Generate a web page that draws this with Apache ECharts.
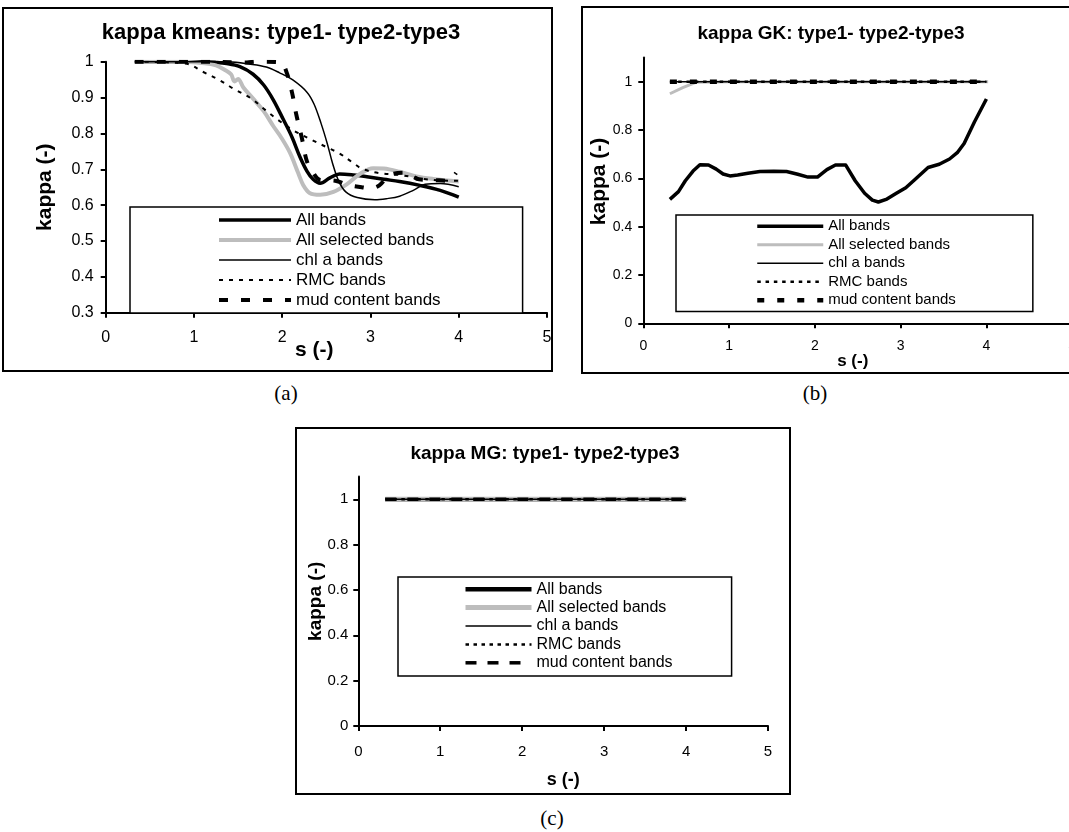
<!DOCTYPE html>
<html><head><meta charset="utf-8">
<script src="https://cdn.jsdelivr.net/npm/echarts@6/dist/echarts.min.js"></script>
<style>
html,body{margin:0;padding:0;width:1069px;height:832px;overflow:hidden;background:#fff;}
.panel{position:absolute;box-sizing:border-box;border:2px solid #000;background:#fff;}
.cap{position:absolute;font-family:'Liberation Serif','Times New Roman',serif;font-size:21px;color:#000;transform:translate(-50%,-50%);white-space:nowrap;}
</style></head><body>
<div id="pa" class="panel" style="left:2px;top:7px;width:551px;height:365px;"></div>
<div id="pb" class="panel" style="left:581px;top:6px;width:500px;height:368px;"></div>
<div id="pc" class="panel" style="left:295px;top:427px;width:496px;height:368px;"></div>
<div class="cap" style="left:286px;top:393px;">(a)</div>
<div class="cap" style="left:815px;top:393px;">(b)</div>
<div class="cap" style="left:552px;top:818px;">(c)</div>
<script>
// ---------- data ----------
const seriesNames = ['All bands', 'All selected bands', 'chl a bands', 'RMC bands', 'mud content bands'];
const titles = ['kappa kmeans: type1- type2-type3', 'kappa GK: type1- type2-type3', 'kappa MG: type1- type2-type3'];
const xName = 's (-)';
const yName = 'kappa (-)';
const yTicksBC = [0, 0.2, 0.4, 0.6, 0.8, 1];

// (a) kmeans  [s, kappa]
const kmAll = [[0.33,1.0],[0.8,1.0],[1.07,1.0],[1.25,0.998],[1.37,0.995],[1.52,0.986],[1.67,0.965],[1.79,0.935],[1.90,0.893],[2.01,0.84],[2.11,0.79],[2.20,0.735],[2.28,0.695],[2.35,0.672],[2.43,0.661],[2.54,0.676],[2.65,0.687],[2.81,0.684],[2.96,0.679],[3.15,0.672],[3.33,0.666],[3.56,0.655],[3.79,0.641],[4.0,0.622]];
const kmSel = [[0.33,1.0],[0.8,1.0],[1.12,0.996],[1.25,0.99],[1.35,0.977],[1.42,0.965],[1.46,0.945],[1.50,0.952],[1.56,0.928],[1.67,0.897],[1.79,0.862],[1.90,0.82],[1.99,0.788],[2.09,0.745],[2.18,0.69],[2.24,0.655],[2.31,0.634],[2.43,0.629],[2.58,0.637],[2.73,0.658],[2.88,0.687],[3.03,0.703],[3.15,0.702],[3.33,0.693],[3.52,0.68],[3.71,0.673],[4.0,0.666]];
const kmChl = [[0.33,1.0],[1.0,1.0],[1.37,1.0],[1.64,0.993],[1.82,0.985],[1.97,0.969],[2.12,0.949],[2.28,0.915],[2.36,0.882],[2.44,0.828],[2.51,0.772],[2.57,0.717],[2.64,0.667],[2.72,0.637],[2.85,0.621],[3.05,0.615],[3.18,0.618],[3.33,0.625],[3.49,0.642],[3.62,0.658],[3.79,0.66],[4.0,0.651]];
const kmRmc = [[0.33,1.0],[0.92,0.994],[1.1,0.972],[1.28,0.95],[1.46,0.923],[1.65,0.897],[1.81,0.865],[1.95,0.838],[2.13,0.808],[2.35,0.78],[2.5,0.762],[2.65,0.744],[2.79,0.72],[2.91,0.701],[3.11,0.689],[3.33,0.684],[3.71,0.67],[4.0,0.668]];
const kmMud = [[0.33,1.0],[1.0,1.0],[1.6,0.998],[1.7,1.0],[1.98,0.998],[2.05,0.97],[2.11,0.915],[2.16,0.852],[2.22,0.79],[2.28,0.722],[2.35,0.69],[2.43,0.67],[2.6,0.668],[2.75,0.656],[2.9,0.65],[3.0,0.647],[3.1,0.655],[3.22,0.684],[3.4,0.69],[3.55,0.672],[3.72,0.67],[3.87,0.668],[3.97,0.69]];

// (b) GK
const gkAll = [[0.31,0.513],[0.41,0.545],[0.49,0.59],[0.58,0.63],[0.66,0.656],[0.76,0.655],[0.85,0.638],[0.93,0.618],[1.01,0.61],[1.1,0.614],[1.22,0.621],[1.36,0.628],[1.52,0.629],[1.67,0.628],[1.8,0.617],[1.92,0.605],[2.03,0.605],[2.14,0.636],[2.24,0.655],[2.36,0.655],[2.47,0.59],[2.58,0.538],[2.67,0.51],[2.74,0.502],[2.84,0.514],[2.95,0.538],[3.06,0.561],[3.17,0.596],[3.32,0.645],[3.45,0.658],[3.57,0.68],[3.66,0.706],[3.74,0.744],[3.86,0.833],[4.0,0.928]];
const gkSel = [[0.31,0.95],[0.46,0.975],[0.62,0.998],[1.0,1.0],[2.0,1.0],[3.0,1.0],[4.02,1.0]];
const gkChl = [[0.31,1.0],[4.0,1.0]];
const gkRmc = [[0.31,1.0],[4.0,1.0]];
const gkMud = [[0.31,1.0],[4.0,1.0]];

// (c) MG
const mgAll = [[0.33,1.0],[4.0,1.0]];
const mgSel = [[0.33,1.0],[4.0,1.0]];
const mgChl = [[0.33,1.0],[4.0,1.0]];
const mgRmc = [[0.33,1.0],[4.0,1.0]];
const mgMud = [[0.33,1.0],[4.0,1.0]];

// ---------- styles ----------
const FONT = "'Liberation Sans', Arial, Helvetica, sans-serif";
const GRAY = '#bdbdbd';

const panels = [
  { id: 'pa', title: titles[0], titleX: 277, titleTop: 13, titleSize: 22,
    grid: [101.7, 52.7, 441.3, 251], yMin: 0.3, yMax: 1, yInterval: 0.1, yCustom: null,
    labelSize: 16, xMargin: 17, yMargin: 12,
    xNameSize: 21, xNameGap: 27, xNamePad: [0, 24, 0, 0],
    yNameSize: 21, yNameGap: 50, yNamePad: [0, 0, 0, 0],
    legend: { left: 126, top: 198, pad: [3, 82, 3, 87], itemWidth: 72, fontSize: 17, lineHeight: 20 },
    smooth: 0.35,
    data: [kmAll, kmSel, kmChl, kmRmc, kmMud],
    styles: [
      { color: '#000', width: 3.5, type: 'solid' },
      { color: GRAY, width: 4, type: 'solid' },
      { color: '#000', width: 1.5, type: 'solid' },
      { color: '#000', width: 2, type: [4, 6] },
      { color: '#000', width: 4, type: [9, 13] }
    ] },
  { id: 'pb', title: titles[1], titleX: 248, titleTop: 16, titleSize: 19,
    grid: [60.3, 49.5, 428.9, 265.8], yMin: 0, yMax: 1.1, yInterval: 0.2, yCustom: yTicksBC,
    labelSize: 14, xMargin: 16, yMargin: 11,
    xNameSize: 17, xNameGap: 30, xNamePad: [0, 10, 0, 0],
    yNameSize: 21, yNameGap: 34, yNamePad: [0, 0, 0, 18],
    legend: { left: 93, top: 207, pad: [2, 77, 2, 79], itemWidth: 66, fontSize: 15, lineHeight: 18.5 },
    smooth: false,
    data: [gkAll, gkSel, gkChl, gkRmc, gkMud],
    styles: [
      { color: '#000', width: 3.5, type: 'solid' },
      { color: GRAY, width: 3, type: 'solid' },
      { color: '#000', width: 1.5, type: 'solid' },
      { color: '#000', width: 2.5, type: [3.5, 4.8] },
      { color: '#000', width: 4.5, type: [7, 13] }
    ] },
  { id: 'pc', title: titles[2], titleX: 248, titleTop: 15, titleSize: 19,
    grid: [61.3, 47.6, 409.7, 249.4], yMin: 0, yMax: 1.1, yInterval: 0.2, yCustom: yTicksBC,
    labelSize: 15, xMargin: 18, yMargin: 10,
    xNameSize: 18, xNameGap: 45, xNamePad: [0, 0, 0, 0],
    yNameSize: 19, yNameGap: 33, yNamePad: [0, 0, 0, 0],
    legend: { left: 101, top: 148, pad: [3, 59, 4, 65], itemWidth: 66, fontSize: 16, lineHeight: 18.4 },
    smooth: false,
    data: [mgAll, mgSel, mgChl, mgRmc, mgMud],
    styles: [
      { color: '#000', width: 4.5, type: 'solid' },
      { color: GRAY, width: 5, type: 'solid' },
      { color: '#000', width: 1.5, type: 'solid' },
      { color: '#000', width: 2.5, type: [3.5, 4.5] },
      { color: '#000', width: 3.5, type: [11, 11] }
    ] }
];

function buildOption(p) {
  const axisLine = { onZero: false, lineStyle: { color: '#000', width: 2 } };
  const axisTick = { show: true, inside: false, length: 5, lineStyle: { color: '#000', width: 2 } };
  const yAxisTick = Object.assign({}, axisTick);
  const yAxisLabel = { color: '#000', fontSize: p.labelSize, margin: p.yMargin, fontFamily: FONT };
  if (p.yCustom) { yAxisTick.customValues = p.yCustom; yAxisLabel.customValues = p.yCustom; }
  return {
    animation: false,
    textStyle: { fontFamily: FONT },
    title: {
      text: p.title, left: p.titleX, top: p.titleTop, textAlign: 'center', textVerticalAlign: 'top', padding: 0,
      textStyle: { fontSize: p.titleSize, fontWeight: 'bold', color: '#000', fontFamily: FONT }
    },
    grid: { left: p.grid[0], top: p.grid[1], width: p.grid[2], height: p.grid[3], containLabel: false, outerBoundsMode: 'none' },
    xAxis: {
      type: 'value', min: 0, max: 5, interval: 1,
      name: xName, nameLocation: 'middle', nameGap: p.xNameGap, nameMoveOverlap: false,
      nameTextStyle: { fontSize: p.xNameSize, fontWeight: 'bold', color: '#000', padding: p.xNamePad, fontFamily: FONT },
      axisLine: axisLine, axisTick: axisTick,
      axisLabel: { color: '#000', fontSize: p.labelSize, margin: p.xMargin, fontFamily: FONT },
      splitLine: { show: false }
    },
    yAxis: {
      type: 'value', min: p.yMin, max: p.yMax, interval: p.yInterval,
      name: yName, nameLocation: 'middle', nameGap: p.yNameGap, nameMoveOverlap: false,
      nameTextStyle: { fontSize: p.yNameSize, fontWeight: 'bold', color: '#000', padding: p.yNamePad, fontFamily: FONT },
      axisLine: axisLine, axisTick: yAxisTick, axisLabel: yAxisLabel,
      splitLine: { show: false }
    },
    legend: {
      data: seriesNames, orient: 'vertical', left: p.legend.left, top: p.legend.top,
      padding: p.legend.pad, itemGap: 0, itemWidth: p.legend.itemWidth, itemHeight: 12,
      borderColor: '#000', borderWidth: 1.5, backgroundColor: '#fff', selectedMode: false,
      itemStyle: { opacity: 0 },
      lineStyle: { width: 'inherit', type: 'inherit', color: 'inherit' },
      textStyle: { color: '#000', fontSize: p.legend.fontSize, lineHeight: p.legend.lineHeight, fontFamily: FONT }
    },
    series: seriesNames.map(function (n, i) {
      return {
        type: 'line', name: n, data: p.data[i], symbol: 'none', showSymbol: false,
        smooth: p.smooth, silent: true, z: 2 + i,
        lineStyle: { color: p.styles[i].color, width: p.styles[i].width, type: p.styles[i].type, cap: 'butt', join: 'round' },
        itemStyle: { color: p.styles[i].color }
      };
    })
  };
}

panels.forEach(function (p) {
  const chart = echarts.init(document.getElementById(p.id), null, { renderer: 'canvas' });
  chart.setOption(buildOption(p));
});
</script>
</body></html>
